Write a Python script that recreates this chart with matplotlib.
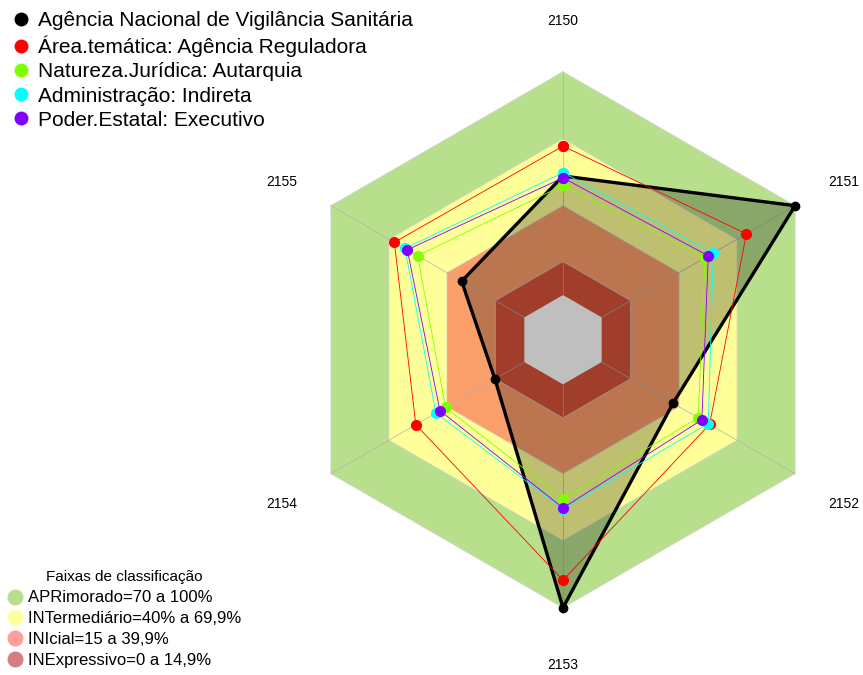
import matplotlib
matplotlib.use("Agg")
import matplotlib.pyplot as plt
from matplotlib.lines import Line2D
import numpy as np

plt.rcParams['font.family'] = ['Liberation Sans', 'DejaVu Sans']

# eixos do radar (sentido horario a partir do topo)
eixos = ['2150', '2151', '2152', '2153', '2154', '2155']

anvisa = [53.3, 100, 36.9, 100, 15.2, 32.4]
area_tematica = [66.7, 74.8, 55.8, 87.7, 56.1, 67.2]
natureza = [49.1, 53.4, 49.9, 51.3, 40.7, 55.2]
administracao = [54.8, 57.7, 55.1, 55.8, 45.7, 61.7]
poder = [52.5, 55.1, 51.8, 55.3, 43.6, 60.5]

series_nomes = ['Agência Nacional de Vigilância Sanitária',
                'Área.temática: Agência Reguladora',
                'Natureza.Jurídica: Autarquia',
                'Administração: Indireta',
                'Poder.Estatal: Executivo']
series_cores = ['black', '#FF0000', '#80FF00', '#00FFFF', '#8000FF']

faixas_limites = [100, 70, 40, 15]
faixas_cores = ['#B8E08C', '#FFFF99', '#FA9E6A', '#D8523A']
faixas_nomes = ['APRimorado=70 a 100%', 'INTermediário=40% a 69,9%',
                'INIcial=15 a 39,9%', 'INExpressivo=0 a 14,9%']
faixas_cores_leg = ['#B8E08C', '#FFFFA0', '#FF9E9E', '#D47F7F']

HOLE = 1 / 6.0
ang = np.deg2rad(90 - 60 * np.arange(len(eixos)))


def xy(vals):
    v = np.asarray(vals, dtype=float)
    r = HOLE + (1 - HOLE) * v / 100.0
    x = r * np.cos(ang)
    y = r * np.sin(ang)
    return np.append(x, x[0]), np.append(y, y[0])


fig = plt.figure(figsize=(8.63, 6.75), dpi=100)
ax = fig.add_axes([0, 0, 1, 1])
R = 268.0
ax.set_xlim(-563 / R, 300 / R)
ax.set_ylim((339.7 - 675) / R, 339.7 / R)
ax.axis('off')

# faixas de classificacao
for lim, cor in zip(faixas_limites, faixas_cores):
    x, y = xy([lim] * 6)
    ax.fill(x, y, color=cor, lw=0, zorder=1)
x, y = xy([0] * 6)
ax.fill(x, y, color='white', lw=0, zorder=1)

# grade
for lim in faixas_limites:
    x, y = xy([lim] * 6)
    ax.plot(x, y, color='#D0D0D0', lw=0.5, zorder=2)
x0, y0 = xy([0] * 6)
x1, y1 = xy([100] * 6)
for i in range(6):
    ax.plot([x0[i], x1[i]], [y0[i], y1[i]], color='#B0B0B0', lw=0.5, zorder=2)

# series
x, y = xy(anvisa)
ax.fill(x, y, color='black', alpha=0.25, lw=0, zorder=3)
ax.plot(x, y, color='black', lw=2.4, marker='o', ms=6, zorder=4)

for vals, cor in zip([area_tematica, natureza, administracao, poder], series_cores[1:]):
    x, y = xy(vals)
    ax.plot(x, y, color=cor, lw=0.6, marker='o', ms=7, zorder=5)

# rotulos dos eixos
for i, nome in enumerate(eixos):
    ax.text(1.21 * np.cos(ang[i]), 1.2 * np.sin(ang[i]) - 0.012, nome,
            ha='center', va='center', fontsize=10)

# legendas
h1 = [Line2D([], [], ls='none', marker='o', ms=9, color=c) for c in series_cores]
leg1 = ax.legend(h1, series_nomes, loc='upper left', bbox_to_anchor=(0.0, 1.0),
                 frameon=False, fontsize=15, handlelength=0.9, handletextpad=0.35,
                 labelspacing=0.25, borderaxespad=0.35, borderpad=0.2)
ax.add_artist(leg1)

h2 = [Line2D([], [], ls='none', marker='o', ms=10.5, color=c) for c in faixas_cores_leg]
leg2 = ax.legend(h2, faixas_nomes, loc='lower left', bbox_to_anchor=(0.0, 0.0),
                 frameon=False, fontsize=12, title='Faixas de classificação',
                 title_fontsize=11, handlelength=0.9, handletextpad=0.35,
                 labelspacing=0.34, borderaxespad=0.25, borderpad=0.2)
leg2._legend_box.sep = 5

fig.savefig('out.png', dpi=100)
